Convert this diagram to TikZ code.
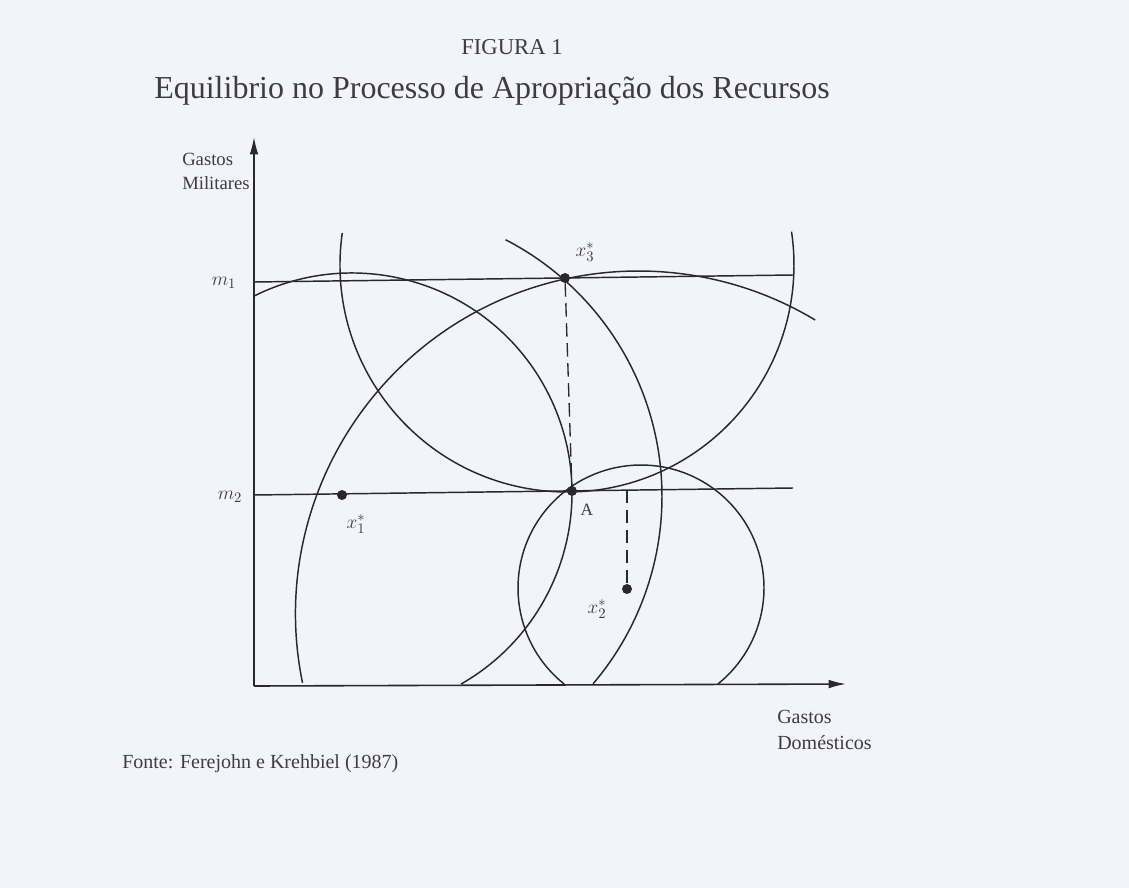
\documentclass[tikz,border=0pt]{standalone}
\usepackage{fontspec}
\setmainfont{Liberation Serif}
\usetikzlibrary{arrows.meta}
\definecolor{bg}{RGB}{243,244,250}
\definecolor{ink}{RGB}{40,40,46}
\definecolor{txt}{RGB}{60,60,66}
\begin{document}
\begin{tikzpicture}[x=0.75pt,y=-0.75pt,
  curve/.style={draw=ink, line width=1.1pt},
  axisline/.style={draw=ink, line width=1.2pt, -{Latex[length=13pt,width=6.5pt]}},
  level/.style={draw=ink, line width=1.1pt},
  dashline/.style={draw=ink, line width=1pt, dash pattern=on 10pt off 5pt},
  dot/.style={circle, fill=ink, inner sep=0pt, minimum size=7.5pt},
  lbl/.style={text=txt, inner sep=0pt},
  mlbl/.style={text=txt, inner sep=0pt, font=\fontsize{15}{17}\selectfont}]
\fill[bg] (0,0) rectangle (1129,888);
\useasboundingbox (0,0) rectangle (1129,888);

% titles
\node[lbl, font=\fontsize{17}{20}\selectfont] (fig) at (512,47) {FIGURA 1};
\node[lbl, font=\fontsize{24}{28}\selectfont] (title) at (492,91) {Equilibrio no Processo de Apropriação dos Recursos};

% axes
\coordinate (O) at (254,686);
\coordinate (Ytop) at (254,137);
\coordinate (Xend) at (846,684);
\draw[axisline] (O) -- (Ytop);
\draw[axisline] (O) -- (Xend);

\node[lbl, anchor=north west, align=left, font=\fontsize{14}{18}\selectfont] (ylab) at (182,153) {Gastos\\Militares};
\node[lbl, anchor=north west, align=left, font=\fontsize{15}{19.5}\selectfont] (xlab) at (777,710) {Gastos\\Domésticos};
\node[lbl, anchor=west, font=\fontsize{15}{18}\selectfont] (fonte) at (122,764) {Fonte: Ferejohn e Krehbiel (1987)};

% level lines
\coordinate (m1L) at (254,282);
\coordinate (m1R) at (793,275);
\coordinate (m2L) at (254,495);
\coordinate (m2R) at (793,488);
\draw[level] (m1L) -- (m1R);
\draw[level] (m2L) -- (m2R);
\node[mlbl] (m1) at (224,283) {$m_1$};
\node[mlbl] (m2) at (230,497) {$m_2$};

% circles (indifference curves)
\coordinate (c1) at (352,493);
\draw[curve] ([shift={(243.8:220)}]c1) arc[start angle=243.8, end angle=420.3, radius=220];
\coordinate (c3) at (567,265);
\draw[curve] ([shift={(188.1:227)}]c3) arc[start angle=188.1, end angle=-8.45, radius=227];
\coordinate (c4) at (638.5,614);
\draw[curve] ([shift={(168.4:343)}]c4) arc[start angle=168.4, end angle=301, radius=343];
\coordinate (c5) at (373,496.5);
\draw[curve] ([shift={(-62.7:289)}]c5) arc[start angle=-62.7, end angle=40.4, radius=289];
\coordinate (c2) at (641,588);
\draw[curve] ([shift={(128.7:123)}]c2) arc[start angle=128.7, end angle=411.3, radius=123];

% points
\node[dot] (x3) at (565,278) {};
\node[dot] (A) at (572,491) {};
\node[dot] (x1) at (342,495) {};
\node[dot] (x2) at (627,589) {};
\coordinate (m2p) at (627,490);
\draw[dashline] (x3) -- (A);
\draw[dashline] (m2p) -- (x2);

\node[mlbl] (x3l) at (585,252) {$x_3^*$};
\node[mlbl] (x1l) at (356,524) {$x_1^*$};
\node[mlbl] (x2l) at (597,609) {$x_2^*$};
\node[lbl, font=\fontsize{13}{15}\selectfont] (Al) at (587,510) {A};
\end{tikzpicture}
\end{document}
